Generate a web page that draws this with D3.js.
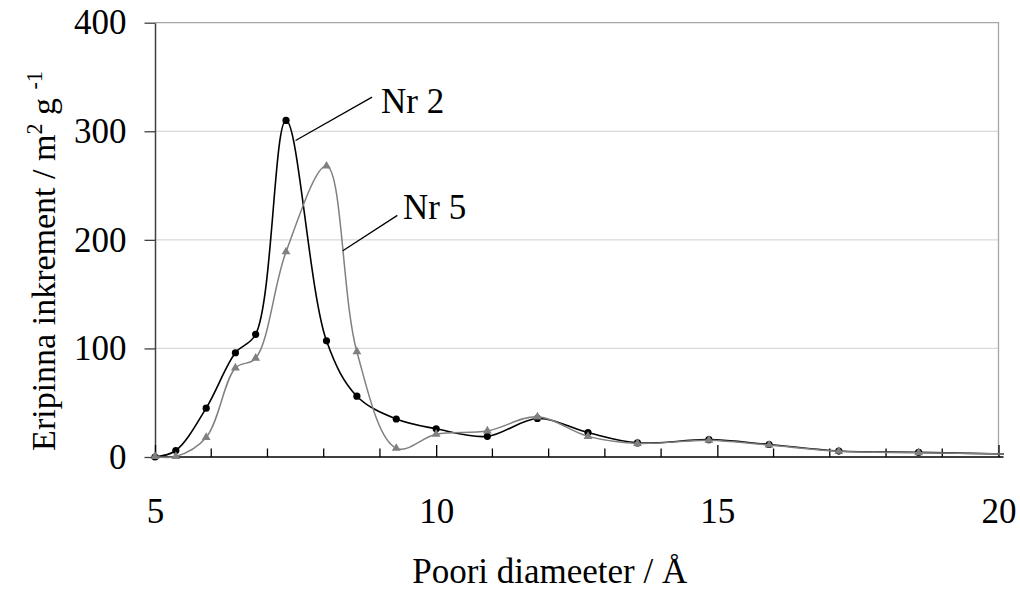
<!DOCTYPE html>
<html>
<head>
<meta charset="utf-8">
<script src="https://cdn.jsdelivr.net/npm/d3@7"></script>
<style>
  html, body { margin: 0; padding: 0; background: #fff; }
  svg { display: block; font-family: "Liberation Serif", "Times New Roman", serif; }
</style>
</head>
<body>
<svg id="chart" width="1020" height="590"></svg>
<script>
// Pore widths (Å) shared by both samples
const poreDiameter = [5.0, 5.37, 5.91, 6.43, 6.79, 7.33, 8.05, 8.59, 9.29, 10.0, 10.91, 11.8, 12.7, 13.58, 14.85, 15.92, 17.16, 18.58, 20.3];
// Incremental specific surface area, m2/g
const nr2Values = [0, 6, 45, 96, 113, 310, 107, 56, 35, 26, 19, 35.5, 22.5, 13, 16, 11.5, 5.5, 4.3, 2.5];
const nr5Values = [0.5, 0.5, 18, 82, 91, 189, 268, 97, 8, 21, 24, 37, 19, 12.5, 15.5, 11, 5.3, 4, 2.5];

const xMajorTicks = [5, 10, 15, 20];
const xMinorTicks = [6, 7, 8, 9, 11, 12, 13, 14, 16, 17, 18, 19];
const yTicks = [0, 100, 200, 300, 400];
const yGridValues = [100, 200, 300];

// Callout labels: text anchor, line start, line end (data units)
const seriesLabels = [
  { name: "Nr 2", text: [9.02, 317], from: [8.86, 331.5], to: [7.50, 291.5] },
  { name: "Nr 5", text: [9.41, 219.5], from: [9.31, 222.5], to: [8.34, 190] }
];

const svg = d3.select("#chart");
const x = d3.scaleLinear().domain([5, 20]).range([155, 998.5]);
const y = d3.scaleLinear().domain([0, 400]).range([457, 22.7]);

const FONT = 35;

// grid lines
svg.append("g").selectAll("line").data(yGridValues).join("line")
  .attr("x1", x(5)).attr("x2", x(20))
  .attr("y1", d => y(d)).attr("y2", d => y(d))
  .attr("stroke", "#d9d9d9").attr("stroke-width", 1.3);

// plot-area border (top and right)
svg.append("path")
  .attr("d", `M${x(5)},${y(400)}H${x(20)}V${y(0)}`)
  .attr("fill", "none").attr("stroke", "#a6a6a6").attr("stroke-width", 1.3);

// y axis
const yAxis = svg.append("g").attr("transform", `translate(${x(5)},0)`)
  .call(d3.axisLeft(y).tickValues(yTicks).tickSize(10.5).tickPadding(18).tickSizeOuter(0));
yAxis.select(".domain").attr("stroke", "#404040").attr("stroke-width", 1.5);
yAxis.selectAll(".tick line").attr("stroke", "#404040").attr("stroke-width", 1.3);
yAxis.selectAll(".tick text").attr("font-size", FONT).attr("font-family", "Liberation Serif").attr("fill", "#000");

// x axis: ticks point up into the plot
const xAxis = svg.append("g").attr("transform", `translate(0,${y(0)})`)
  .call(d3.axisBottom(x).tickValues(xMajorTicks).tickSize(-12).tickPadding(41).tickSizeOuter(0).tickFormat(d3.format("d")));
xAxis.select(".domain").attr("stroke", "#000").attr("stroke-width", 1.6)
  .attr("d", `M${x(5)},0H${x(20) + 5}`);
xAxis.selectAll(".tick line").attr("stroke", "#000").attr("stroke-width", 1.3);
xAxis.selectAll(".tick text").attr("font-size", FONT).attr("font-family", "Liberation Serif").attr("fill", "#000");
svg.append("g").selectAll("line").data(xMinorTicks).join("line")
  .attr("x1", d => x(d)).attr("x2", d => x(d))
  .attr("y1", y(0)).attr("y2", y(0) - 8.5)
  .attr("stroke", "#000").attr("stroke-width", 1.3);

// series
svg.append("defs").append("clipPath").attr("id", "plotClip")
  .append("rect").attr("x", 140).attr("y", 0).attr("width", x(20) + 5.5 - 140).attr("height", 470);

const plot = svg.append("g").attr("clip-path", "url(#plotClip)");
const smooth = d3.line().curve(d3.curveCatmullRom.alpha(0.5))
  .x(d => x(d[0])).y(d => y(d[1]));

const nr2 = poreDiameter.map((d, i) => [d, nr2Values[i]]);
const nr5 = poreDiameter.map((d, i) => [d, nr5Values[i]]);

plot.append("path").datum(nr2).attr("d", smooth)
  .attr("fill", "none").attr("stroke", "#000").attr("stroke-width", 1.6);
plot.append("g").selectAll("circle").data(nr2).join("circle")
  .attr("cx", d => x(d[0])).attr("cy", d => y(d[1])).attr("r", 3.6).attr("fill", "#000");

plot.append("path").datum(nr5).attr("d", smooth)
  .attr("fill", "none").attr("stroke", "#808080").attr("stroke-width", 1.5);
const tri = d3.symbol().type(d3.symbolTriangle).size(34);
plot.append("g").selectAll("path").data(nr5).join("path")
  .attr("transform", d => `translate(${x(d[0])},${y(d[1])})`)
  .attr("d", tri).attr("fill", "#808080");

// callouts
const callouts = svg.append("g");
seriesLabels.forEach(l => {
  callouts.append("line")
    .attr("x1", x(l.from[0])).attr("y1", y(l.from[1]))
    .attr("x2", x(l.to[0])).attr("y2", y(l.to[1]))
    .attr("stroke", "#000").attr("stroke-width", 1.3);
  callouts.append("text")
    .attr("x", x(l.text[0])).attr("y", y(l.text[1]))
    .attr("font-size", FONT).attr("fill", "#000").text(l.name);
});

// axis titles
svg.append("text")
  .attr("x", (x(5) + x(20)) / 2 - 27).attr("y", 583)
  .attr("text-anchor", "middle").attr("font-size", FONT).attr("fill", "#000")
  .text("Poori diameeter / Å");

const TITLE_FONT = 34;
const yTitle = svg.append("text")
  .attr("transform", `translate(55,261) rotate(-90)`)
  .attr("text-anchor", "middle").attr("font-size", TITLE_FONT).attr("fill", "#000");
yTitle.append("tspan").text("Eripinna inkrement / m");
yTitle.append("tspan").attr("font-size", TITLE_FONT * 0.65).attr("dy", -13).text("2");
yTitle.append("tspan").attr("dy", 13).text(" g ");
yTitle.append("tspan").attr("font-size", TITLE_FONT * 0.65).attr("dy", -13).text("-1");
</script>
</body>
</html>
